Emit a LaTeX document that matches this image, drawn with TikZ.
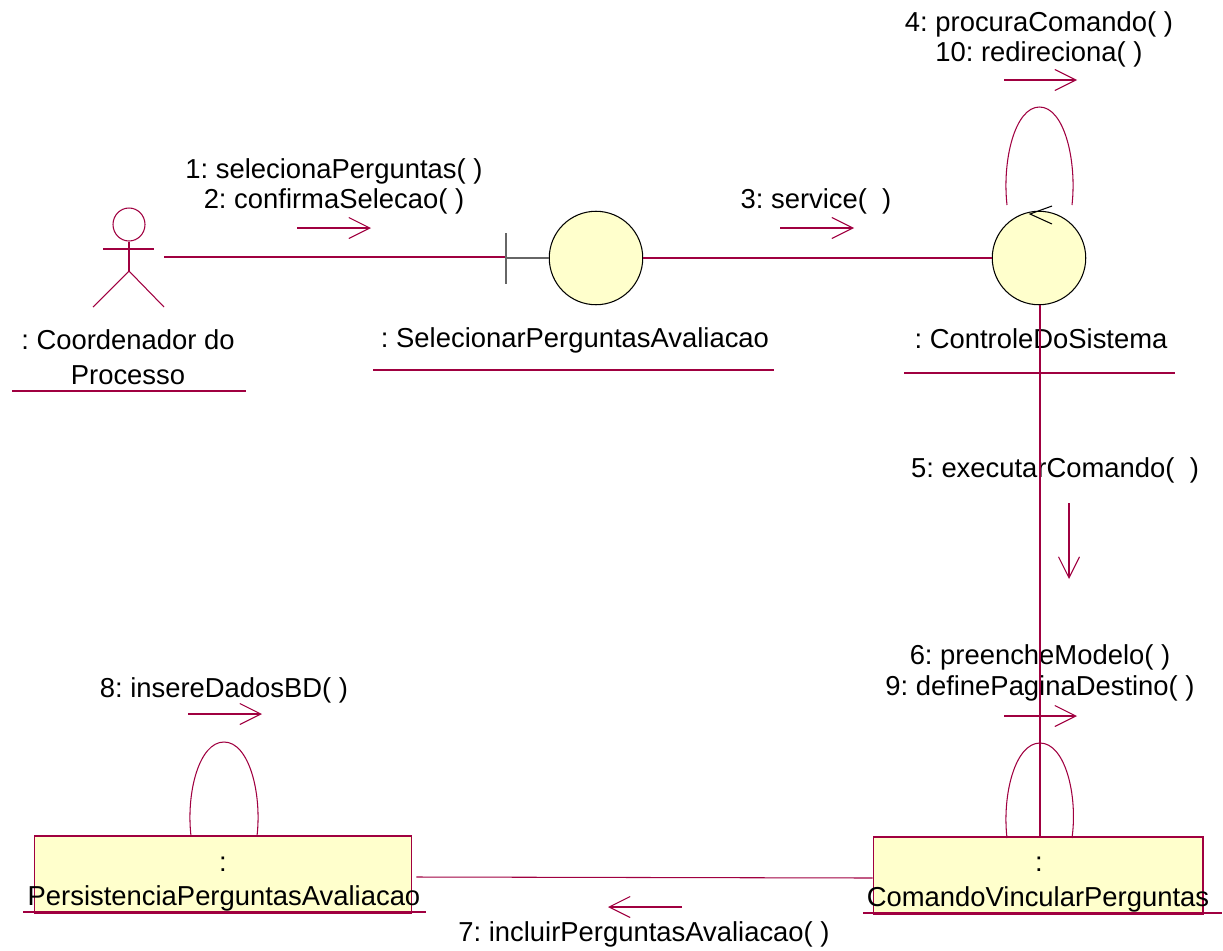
\documentclass[tikz,border=0pt]{standalone}
\usepackage{fontspec}
\setmainfont{Liberation Sans}
\usetikzlibrary{positioning}
\usetikzlibrary{shapes.geometric}
\usetikzlibrary{arrows.meta}
\definecolor{linha}{HTML}{A00040}
\definecolor{creme}{HTML}{FFFFCC}

\begin{document}
\frenchspacing
\begin{tikzpicture}[x=0.02cm, y=-0.02cm,
    every path/.style={line width=0.6pt},
    linha/.style={draw=linha},
    msg/.style={draw=linha, -{Straight Barb[length=0.42cm, width=0.42cm]}},
    rotulo/.style={inner sep=0pt, align=center, font=\fontsize{15.6}{17}\selectfont},
    classe/.style={draw=black, fill=creme, circle, minimum size=1.87cm, inner sep=0pt},
    caixa/.style={draw=linha, fill=creme, rectangle, minimum width=#1, minimum height=1.54cm, inner sep=0pt}]
    \useasboundingbox (0,0) rectangle (1223,950);

    % Nodos
    \node[classe] (tela) at (596,258) {};
    \node[classe] (controle) at (1039,258) {};
    \node[caixa=6.6cm] (comando) at (1038,875.5) {};
    \node[caixa=7.56cm] (persistencia) at (223,874.5) {};

    \node[rotulo] (nomeator) at (128,357) {: Coordenador do\\[3pt]Processo};
    \node[rotulo] (nometela) at (575,340) {: SelecionarPerguntasAvaliacao};
    \node[rotulo] (nomecontrole) at (1041,339) {: ControleDoSistema};
    \node[rotulo] (doispontosc) at (1039,864) {:};
    \node[rotulo] (nomecomando) at (1038,899) {ComandoVincularPerguntas};
    \node[rotulo] (doispontosp) at (223,864) {:};
    \node[rotulo] (nomepersistencia) at (224,898) {PersistenciaPerguntasAvaliacao};

    \node[rotulo] (m12) at (334,186) {1: selecionaPerguntas( )\\2: confirmaSelecao( )};
    \node[rotulo] (m3) at (816,201) {3: service(\ \ )};
    \node[rotulo] (m410) at (1039,39) {4: procuraComando( )\\10: redireciona( )};
    \node[rotulo] (m5) at (1055,470) {5: executarComando(\ \ )};
    \node[rotulo] (m69) at (1040,673) {6: preencheModelo( )\\[1pt]9: definePaginaDestino( )};
    \node[rotulo] (m7) at (644,934) {7: incluirPerguntasAvaliacao( )};
    \node[rotulo] (m8) at (224,690) {8: insereDadosBD( )};

    % Ator
    \node[draw=linha, ellipse, minimum width=0.64cm, minimum height=0.66cm, inner sep=0pt] (cabeca) at (129,224.5) {};
    \coordinate (quadril) at (129,271);
    \coordinate (ator) at (164,257);
    \coordinate (barra) at (506,257);
    \draw[linha] (cabeca.south) -- (quadril);
    \draw[linha] (103,249) -- (154,249);
    \draw[linha] (93,307) -- (quadril) -- (164,307);

    % Sublinhados
    \draw[linha] (12,391) -- (246,391);
    \draw[linha] (373,370) -- (774,370);
    \draw[linha] (904,373) -- (1175,373);
    \draw[linha] (863,913) -- (1222,913);
    \draw[linha] (23,912) -- (426,912);

    % Aristas
    \draw[linha] (ator) -- (barra);
    \draw[gray!80!black] (506,233) -- (506,284);
    \draw[gray!80!black] (barra |- tela.west) -- (tela.west);
    \draw[linha] (tela.east) -- (controle.west);
    \draw[linha] (controle.south -| 1040,0) -- (comando.north -| 1040,0);
    \draw[linha] (persistencia.east |- 0,877) ++(4,0) -- (comando.west |- 0,878);

    % Lacos
    \draw[linha] (1007,205) .. controls (1002,160) and (1015,107) .. (1039.5,107) .. controls (1064,107) and (1077,160) .. (1072,205);
    \draw[black] (1052,206) -- (1030,214) -- (1052,224);
    \draw[linha] (1007,838) .. controls (1002,795) and (1015,743) .. (1040,743) .. controls (1065,743) and (1078,795) .. (1072,838);
    \draw[linha] (191,836) .. controls (186,793) and (199,742) .. (224,742) .. controls (249,742) and (262,793) .. (257,836);

    % Mensagens
    \draw[msg] (297,228) -- (371,228);
    \draw[msg] (780,228) -- (854,228);
    \draw[msg] (1004,80) -- (1077,80);
    \draw[msg] (1069,503) -- (1069,579);
    \draw[msg] (1004,716) -- (1077,716);
    \draw[msg] (682,907) -- (608,907);
    \draw[msg] (188,714) -- (262,714);
\end{tikzpicture}
\end{document}
